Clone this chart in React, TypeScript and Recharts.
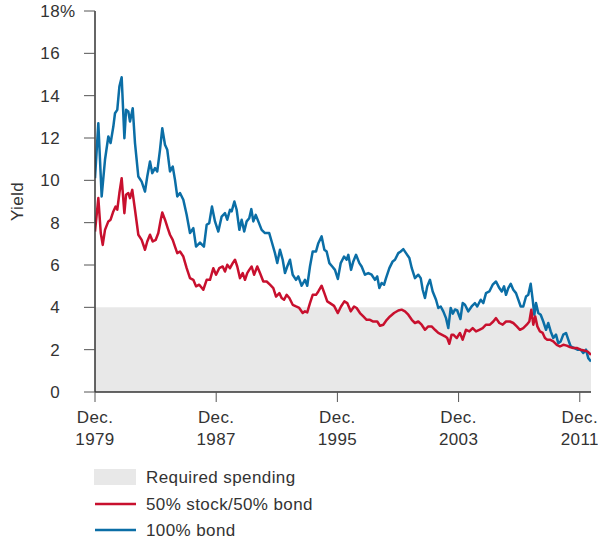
import { LineChart, Line, XAxis, YAxis, ReferenceArea } from 'recharts';

// time is in years after Dec. 1979
const tickYears = [0, 8, 16, 24, 32];
const tickLabels = ['1979', '1987', '1995', '2003', '2011'];
const yTicks = [0, 2, 4, 6, 8, 10, 12, 14, 16, 18];
const requiredSpending = 4;

const bondSeries: [number, number][] = [
  [0, 10.1], [0.22, 12.7], [0.44, 9.24], [0.66, 10.97], [0.88, 12.07], [1.03, 11.76], [1.21, 12.54],
  [1.32, 13.17], [1.47, 13.33], [1.61, 14.43], [1.76, 14.87], [1.94, 11.99], [2.05, 13.33], [2.2, 13.25],
  [2.31, 12.78], [2.49, 13.41], [2.64, 11.76], [2.86, 10.18], [3.08, 9.94], [3.3, 9.47], [3.45, 10.18],
  [3.63, 10.89], [3.78, 10.34], [3.96, 10.58], [4.11, 10.42], [4.29, 11.44], [4.44, 12.46], [4.62, 11.68],
  [4.77, 11.44], [4.95, 10.42], [5.13, 10.65], [5.28, 10.02], [5.43, 9.24], [5.61, 9.4], [5.83, 9.08],
  [6.05, 8.37], [6.27, 7.51], [6.49, 7.74], [6.67, 6.87], [6.93, 7.06], [7.19, 6.87], [7.37, 7.9],
  [7.54, 7.98], [7.72, 8.76], [7.92, 8.06], [8.14, 7.58], [8.36, 8.29], [8.58, 8.45], [8.73, 8.14],
  [8.91, 8.61], [9.02, 8.53], [9.2, 9.0], [9.35, 8.61], [9.53, 7.66], [9.68, 8.14], [9.85, 7.58],
  [10.01, 8.06], [10.18, 8.21], [10.32, 8.64], [10.45, 8.06], [10.61, 8.37], [10.78, 8.06], [11.0, 7.66],
  [11.22, 7.51], [11.5, 7.51], [11.66, 7.11], [11.88, 6.56], [12.03, 6.09], [12.21, 6.72], [12.39, 6.25],
  [12.54, 5.62], [12.69, 5.93], [12.87, 6.25], [13.05, 5.54], [13.27, 5.3], [13.42, 5.46], [13.64, 5.02],
  [13.86, 5.3], [14.01, 5.02], [14.19, 5.93], [14.37, 6.64], [14.59, 6.64], [14.74, 7.03], [14.96, 7.35],
  [15.14, 6.72], [15.29, 6.64], [15.47, 6.09], [15.66, 5.93], [15.84, 5.77], [16.03, 5.34], [16.22, 6.09],
  [16.44, 6.4], [16.61, 6.25], [16.72, 6.48], [16.9, 5.77], [17.05, 6.17], [17.23, 6.48], [17.45, 6.09],
  [17.6, 5.93], [17.82, 5.54], [18.04, 5.62], [18.26, 5.54], [18.48, 5.3], [18.63, 5.46], [18.77, 4.91],
  [18.92, 5.15], [19.08, 5.07], [19.21, 5.38], [19.43, 5.85], [19.65, 6.17], [19.8, 6.25], [20.02, 6.56],
  [20.18, 6.64], [20.35, 6.75], [20.53, 6.56], [20.75, 6.33], [20.91, 5.85], [21.12, 5.38], [21.34, 5.54],
  [21.5, 5.38], [21.63, 4.83], [21.78, 4.44], [21.93, 4.99], [22.11, 5.3], [22.29, 4.75], [22.51, 4.36],
  [22.66, 3.97], [22.82, 4.04], [22.99, 3.81], [23.17, 3.49], [23.32, 3.02], [23.48, 3.97], [23.62, 3.7],
  [23.76, 3.9], [23.91, 3.85], [24.12, 3.45], [24.27, 4.2], [24.42, 4.12], [24.64, 3.81], [24.86, 4.04],
  [25.08, 4.2], [25.23, 4.04], [25.46, 4.36], [25.63, 4.2], [25.81, 4.67], [26.03, 4.75], [26.25, 5.07],
  [26.47, 5.22], [26.69, 4.91], [26.85, 4.75], [27.0, 4.99], [27.13, 4.59], [27.28, 4.91], [27.44, 5.11],
  [27.61, 4.83], [27.79, 4.67], [27.94, 4.36], [28.1, 4.04], [28.27, 4.04], [28.45, 4.51], [28.6, 4.59],
  [28.76, 5.11], [28.89, 4.36], [29.0, 3.65], [29.11, 4.2], [29.26, 3.73], [29.42, 3.65], [29.59, 3.33],
  [29.77, 2.94], [29.92, 3.26], [30.08, 2.86], [30.25, 2.55], [30.43, 2.71], [30.58, 2.31], [30.74, 2.39],
  [30.91, 2.71], [31.09, 2.79], [31.24, 2.47], [31.4, 2.15], [31.62, 2.08], [31.84, 2.0], [32.06, 2.0],
  [32.23, 1.84], [32.41, 2.0], [32.56, 1.6], [32.74, 1.44],
];

const mixSeries: [number, number][] = [
  [0, 7.58], [0.22, 9.16], [0.38, 7.51], [0.51, 6.95], [0.66, 7.66], [0.88, 8.06], [1.03, 8.14],
  [1.21, 8.53], [1.36, 8.76], [1.47, 8.61], [1.61, 9.4], [1.76, 10.1], [1.94, 8.45], [2.05, 9.32],
  [2.2, 9.4], [2.31, 9.16], [2.46, 9.55], [2.64, 8.61], [2.86, 7.43], [3.08, 7.19], [3.3, 6.72],
  [3.45, 7.11], [3.63, 7.43], [3.81, 7.11], [4.01, 7.19], [4.18, 7.51], [4.34, 8.14], [4.44, 8.48],
  [4.62, 8.14], [4.8, 7.74], [4.95, 7.43], [5.13, 7.19], [5.28, 6.87], [5.43, 6.56], [5.61, 6.64],
  [5.83, 6.4], [6.05, 5.85], [6.27, 5.38], [6.49, 5.3], [6.67, 4.99], [6.88, 5.07], [7.15, 4.83],
  [7.37, 5.3], [7.59, 5.3], [7.81, 5.85], [7.99, 5.54], [8.2, 5.85], [8.43, 5.93], [8.58, 5.69],
  [8.73, 6.01], [8.91, 5.85], [9.09, 6.09], [9.24, 6.25], [9.39, 5.93], [9.57, 5.38], [9.75, 5.62],
  [9.9, 5.3], [10.05, 5.62], [10.18, 5.77], [10.34, 5.93], [10.5, 5.54], [10.71, 5.93], [10.89, 5.62],
  [11.11, 5.22], [11.33, 5.22], [11.55, 5.07], [11.77, 4.91], [11.95, 4.51], [12.17, 4.67], [12.32, 4.44],
  [12.48, 4.36], [12.65, 4.59], [12.83, 4.44], [13.05, 4.12], [13.27, 4.04], [13.48, 3.97], [13.71, 3.73],
  [13.86, 3.81], [14.01, 3.76], [14.19, 4.2], [14.37, 4.59], [14.59, 4.59], [14.74, 4.75], [14.96, 5.02],
  [15.14, 4.67], [15.33, 4.28], [15.51, 4.2], [15.78, 4.07], [16.03, 3.73], [16.24, 4.04], [16.46, 4.28],
  [16.65, 4.2], [16.88, 3.81], [17.1, 4.04], [17.27, 3.97], [17.49, 3.73], [17.71, 3.57], [17.93, 3.41],
  [18.15, 3.41], [18.37, 3.33], [18.63, 3.33], [18.81, 3.13], [19.03, 3.18], [19.26, 3.41], [19.47, 3.57],
  [19.74, 3.73], [20.02, 3.85], [20.24, 3.89], [20.46, 3.81], [20.68, 3.65], [20.91, 3.41], [21.12, 3.26],
  [21.34, 3.33], [21.56, 3.18], [21.78, 2.94], [22.0, 3.1], [22.22, 3.1], [22.44, 2.94], [22.66, 2.79],
  [22.88, 2.71], [23.1, 2.63], [23.25, 2.55], [23.39, 2.28], [23.54, 2.71], [23.65, 2.71], [23.88, 2.55],
  [24.09, 2.79], [24.27, 2.47], [24.49, 2.94], [24.71, 2.86], [24.93, 3.02], [25.15, 2.86], [25.37, 2.94],
  [25.59, 3.02], [25.81, 3.18], [26.07, 3.18], [26.29, 3.33], [26.47, 3.49], [26.69, 3.26], [26.91, 3.18],
  [27.13, 3.33], [27.39, 3.33], [27.61, 3.26], [27.84, 3.1], [28.05, 2.94], [28.27, 3.02], [28.5, 3.18],
  [28.67, 3.33], [28.8, 3.89], [28.93, 3.18], [29.06, 3.57], [29.2, 3.1], [29.37, 2.86], [29.55, 2.79],
  [29.7, 2.55], [29.85, 2.47], [30.03, 2.47], [30.25, 2.39], [30.48, 2.23], [30.69, 2.15], [30.91, 2.23],
  [31.14, 2.19], [31.35, 2.12], [31.57, 2.08], [31.8, 2.08], [32.06, 2.0], [32.28, 1.96], [32.5, 1.92],
  [32.74, 1.76],
];

const BLUE = '#0b6ea6';
const RED = '#c8102e';
const GRAY = '#e8e8e8';
const TEXT = '#333333';
const FONT = '"Liberation Sans", Arial, sans-serif';
const FS = 17;
const LS = 0.4;

if (typeof document !== 'undefined') document.body.style.margin = '0';

const bondData = bondSeries.map(([t, v]) => ({ t, v }));
const mixData = mixSeries.map(([t, v]) => ({ t, v }));

const textProps = { fill: TEXT, fontSize: FS, fontFamily: FONT, letterSpacing: LS };

function XTick(props: any) {
  const { x, y, payload } = props;
  const label = tickLabels[tickYears.indexOf(payload.value)];
  return (
    <text x={x} y={y} textAnchor="middle" {...textProps}>
      <tspan x={x} dy={21}>Dec.</tspan>
      <tspan x={x} dy={22}>{label}</tspan>
    </text>
  );
}

function YTick(props: any) {
  const { x, y, payload } = props;
  return (
    <g>
      <text x={x} y={y} dy={6} textAnchor="end" {...textProps}>
        {payload.value}
      </text>
      {payload.value === 18 && (
        <text x={x} y={y} dy={6} textAnchor="start" {...textProps}>%</text>
      )}
    </g>
  );
}

function YieldLabel(props: any) {
  const { viewBox } = props;
  const cx = viewBox.x + 17;
  const cy = viewBox.y + viewBox.height / 2;
  return (
    <text x={cx} y={cy} dy={6} transform={`rotate(-90 ${cx} ${cy})`} textAnchor="middle" {...textProps}>
      Yield
    </text>
  );
}

export default function App() {
  return (
    <div style={{ position: 'relative', width: 598, height: 539, background: '#fff' }}>
      <LineChart width={598} height={460} margin={{ top: 11, right: 7, bottom: 8, left: 0 }}>
        <ReferenceArea y1={0} y2={requiredSpending} fill={GRAY} fillOpacity={1} stroke="none" />
        <XAxis type="number" dataKey="t" domain={[0, 32.74]} ticks={tickYears} allowDataOverflow
          height={60} tickSize={10} tickMargin={0} tick={<XTick />}
          axisLine={{ stroke: TEXT, strokeWidth: 1.5 }} tickLine={{ stroke: '#555' }} />
        <YAxis type="number" domain={[0, 18]} ticks={yTicks} width={95} tickSize={11} tickMargin={24}
          tick={<YTick />} axisLine={{ stroke: TEXT, strokeWidth: 1.5 }} tickLine={{ stroke: '#555' }}
          label={<YieldLabel />} />
        <Line data={bondData} dataKey="v" type="linear" stroke={BLUE} strokeWidth={2.5} dot={false}
          strokeLinejoin="round" isAnimationActive={false} />
        <Line data={mixData} dataKey="v" type="linear" stroke={RED} strokeWidth={2.5} dot={false}
          strokeLinejoin="round" isAnimationActive={false} />
      </LineChart>
      <div style={{ position: 'absolute', left: 0, top: 460, width: 598, height: 79 }}>
        <svg width={598} height={79}>
          <rect x={94} y={9} width={42} height={16} fill={GRAY} />
          <text x={146} y={23} {...textProps}>Required spending</text>
          <line x1={95} x2={136} y1={44} y2={44} stroke={RED} strokeWidth={2.5} />
          <text x={146} y={50} {...textProps}>50% stock/50% bond</text>
          <line x1={95} x2={136} y1={70} y2={70} stroke={BLUE} strokeWidth={2.5} />
          <text x={146} y={76} {...textProps}>100% bond</text>
        </svg>
      </div>
    </div>
  );
}
